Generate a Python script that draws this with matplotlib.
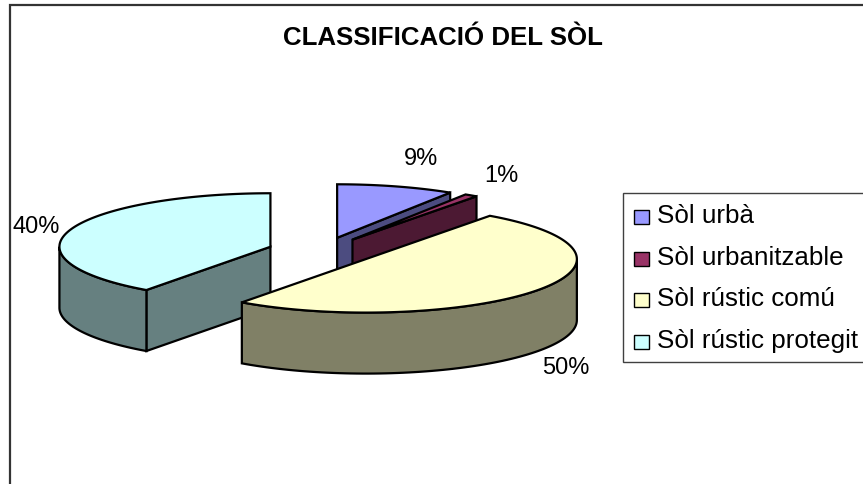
import numpy as np
import matplotlib
matplotlib.use('Agg')
from matplotlib import pyplot as plt
from matplotlib.patches import Polygon, Rectangle

title = 'CLASSIFICACIÓ DEL SÒL'
labels = ['Sòl urbà', 'Sòl urbanitzable', 'Sòl rústic comú', 'Sòl rústic protegit']
values = [9, 1, 50, 40]
top_colors = ['#9999FF', '#993366', '#FFFFCC', '#CCFFFF']
side_colors = ['#4C4C80', '#4C1933', '#808066', '#668080']
# where the percent labels sit (pixel coords, baseline)
label_pos = [(421, 165), (501, 182), (566, 374), (36, 233)]

plt.rcParams['font.family'] = ['Liberation Sans', 'DejaVu Sans']

fig = plt.figure(figsize=(8.63, 4.85), dpi=100)
ax = fig.add_axes([0, 0, 1, 1])
ax.set_xlim(0, 863)
ax.set_ylim(485, 0)
ax.axis('off')

# pie geometry in pixels
cx, cy = 322, 252
rx, ry = 211, 53.5
depth = 61
explode = 0.257
lw = 1.6


def pt(ox, oy, t, dz=0):
    t = np.radians(t)
    return ox + rx * np.sin(t), oy - ry * np.cos(t) + dz


total = float(sum(values))
angles = np.concatenate([[0], np.cumsum(values) / total * 360])

slices = []
for i in range(len(values)):
    a, b = angles[i], angles[i + 1]
    mid = np.radians((a + b) / 2)
    ox = cx + explode * rx * np.sin(mid)
    oy = cy - explode * ry * np.cos(mid)
    slices.append((oy, i, a, b, ox))

# back to front
for oy, i, a, b, ox in sorted(slices):
    side = side_colors[i]
    # radial walls
    for ang, vis in ((a, np.sin(np.radians(a)) < -1e-6), (b, np.sin(np.radians(b)) > 1e-6)):
        if vis:
            ex, ey = pt(ox, oy, ang)
            quad = [(ox, oy), (ex, ey), (ex, ey + depth), (ox, oy + depth)]
            ax.add_patch(Polygon(quad, closed=True, facecolor=side, edgecolor='black', lw=lw))
    # outer curved wall (front half only)
    t0, t1 = max(a, 90), min(b, 270)
    if t1 > t0:
        ts = np.linspace(t0, t1, 80)
        upper = [pt(ox, oy, t) for t in ts]
        lower = [pt(ox, oy, t, depth) for t in ts[::-1]]
        ax.add_patch(Polygon(upper + lower, closed=True, facecolor=side,
                             edgecolor='black', lw=lw))
    # top face
    ts = np.linspace(a, b, max(int((b - a) * 2), 4))
    face = [(ox, oy)] + [pt(ox, oy, t) for t in ts]
    ax.add_patch(Polygon(face, closed=True, facecolor=top_colors[i],
                         edgecolor='black', lw=lw))

for v, (x, y) in zip(values, label_pos):
    ax.text(x, y, f'{v}%', fontsize=17, ha='center', va='baseline')

ax.text(443, 45, title, fontsize=18.6, fontweight='bold', ha='center', va='baseline')

# legend
ax.add_patch(Rectangle((623, 194), 300, 169, facecolor='white', edgecolor='#404040',
                       lw=1.0, clip_on=False))
for k, lab in enumerate(labels):
    base = 223 + k * 41.7
    ax.add_patch(Rectangle((634, base - 12), 15, 14, facecolor=top_colors[k],
                           edgecolor='black', lw=1.0))
    ax.text(657, base, lab, fontsize=18.7, ha='left', va='baseline')

# chart border (left and top visible)
ax.plot([10, 10, 863], [485, 6, 6], color='#333333', lw=1.6, solid_joinstyle='miter')

fig.savefig('out.png', dpi=100)
